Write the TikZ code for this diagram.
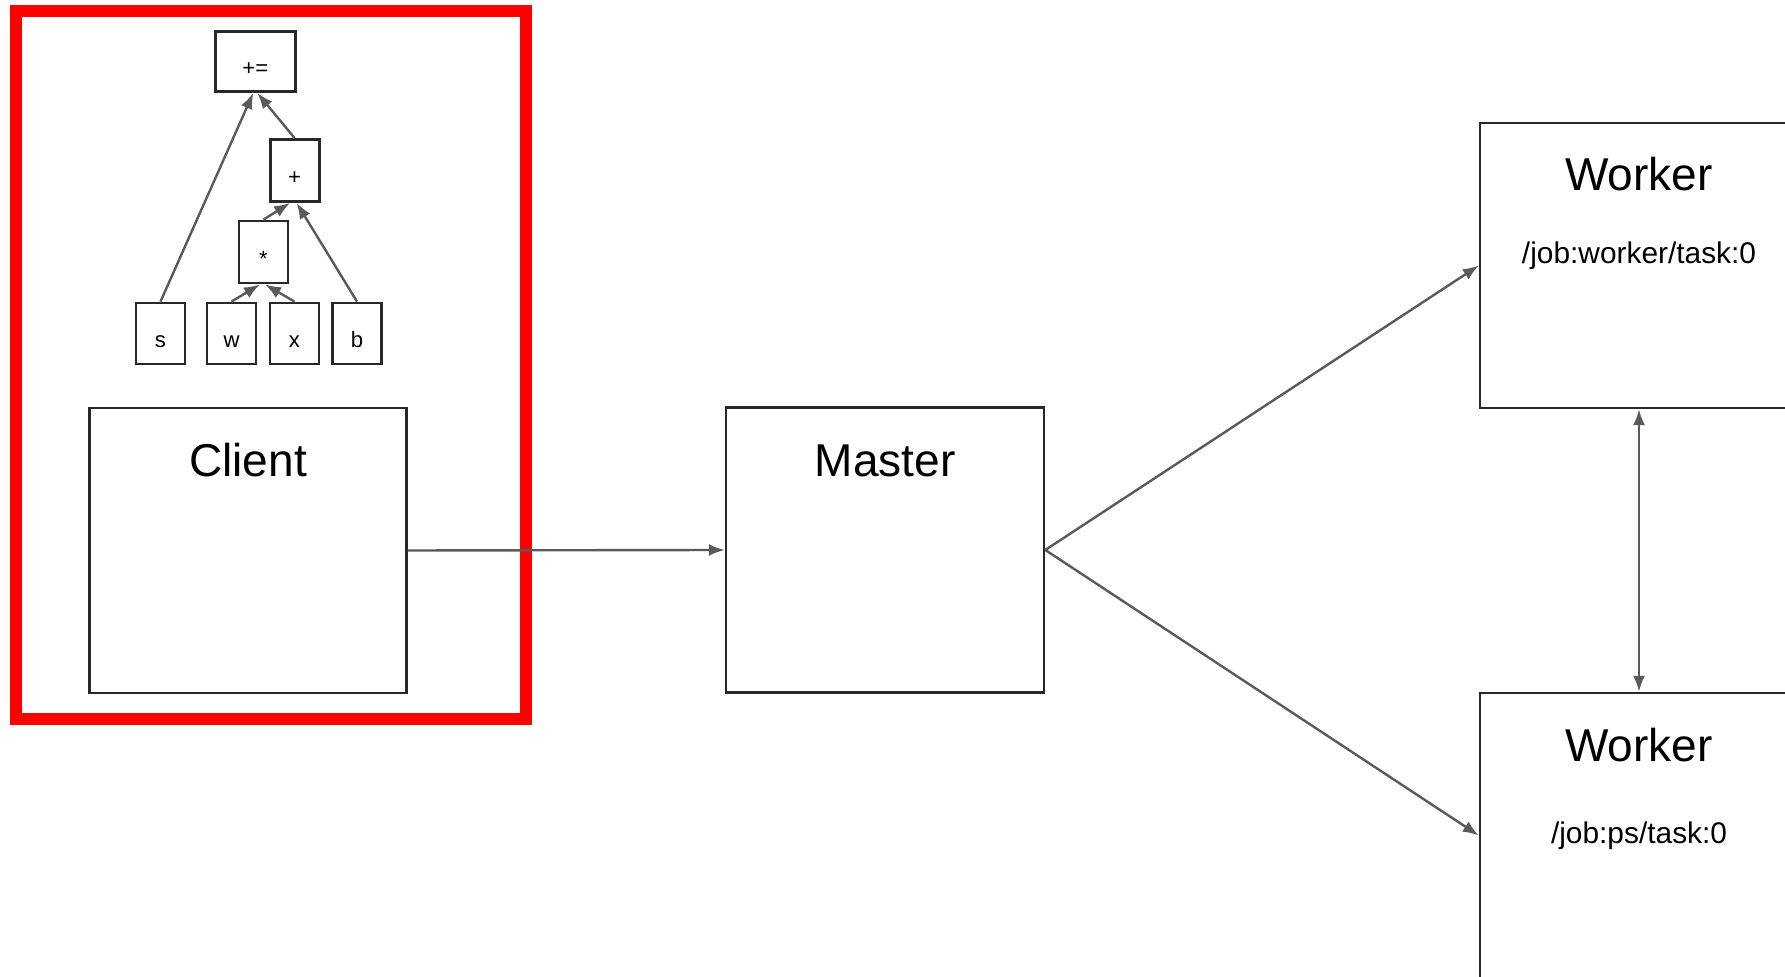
\documentclass[tikz,border=0pt]{standalone}
\usepackage{fontspec}
\setmainfont{Liberation Sans}
\usepackage{xcolor}
\usetikzlibrary{arrows.meta,positioning}
\definecolor{framered}{RGB}{255,0,0}
\definecolor{flowgray}{RGB}{90,90,90}
\definecolor{boxblack}{RGB}{40,40,40}

\begin{document}
\begin{tikzpicture}[
    opbox/.style={draw=boxblack, line width=0.028cm, minimum width=0.49cm, minimum height=0.61cm,
        inner sep=0pt, text height=0.29cm, text depth=0cm, font=\fontsize{6.3}{7}\selectfont},
    bigbox/.style={draw=boxblack, line width=0.024cm, minimum width=3.18cm, minimum height=2.85cm, inner sep=0pt},
    boxtitle/.style={anchor=base, inner sep=0pt, font=\fontsize{13.1}{15}\selectfont},
    jobname/.style={anchor=base, inner sep=0pt, font=\fontsize{8.5}{10}\selectfont},
    flow/.style={draw=flowgray, line width=0.024cm, -{Latex[length=0.16cm,width=0.12cm]}}
]
    \useasboundingbox (0,0) rectangle (17.85,-9.77);

    % graph built by the client
    \node[opbox, minimum width=0.80cm, minimum height=0.60cm] (pluseq) at (2.553,-0.615) {+=};
    \node[opbox, minimum height=0.62cm] (plus) at (2.946,-1.705) {+};
    \node[opbox, minimum height=0.62cm] (mul) at (2.635,-2.52) {*};
    \node[opbox] (s) at (1.605,-3.335) {s};
    \node[opbox] (w) at (2.315,-3.335) {w};
    \node[opbox] (x) at (2.945,-3.335) {x};
    \node[opbox] (b) at (3.57,-3.335) {b};

    \draw[flow] (s.north) -- ([xshift=-0.02cm]pluseq.south);
    \draw[flow] (plus.north) -- ([xshift=0.02cm]pluseq.south);
    \draw[flow] (mul.north) -- ([xshift=-0.045cm]plus.south);
    \draw[flow] (b.north) -- ([xshift=0.02cm]plus.south);
    \draw[flow] (w.north) -- ([xshift=-0.035cm]mul.south);
    \draw[flow] (x.north) -- ([xshift=0.015cm]mul.south);

    % processes
    \node[bigbox, minimum width=3.17cm] (client) at (2.481,-5.505) {};
    \node[boxtitle, yshift=-0.70cm] (clientlbl) at (client.north) {Client};

    \node[bigbox] (master) at (8.851,-5.50) {};
    \node[boxtitle, yshift=-0.70cm] (masterlbl) at (master.north) {Master};

    \node[bigbox] (worker) at (16.39,-2.655) {};
    \node[boxtitle, yshift=-0.69cm] (workerlbl) at (worker.north) {Worker};
    \node[jobname, yshift=-1.42cm] (workerjob) at (worker.north) {/job:worker/task:0};

    \node[bigbox] (ps) at (16.39,-8.355) {};
    \node[boxtitle, yshift=-0.70cm] (pslbl) at (ps.north) {Worker};
    \node[jobname, yshift=-1.52cm] (psjob) at (ps.north) {/job:ps/task:0};

    % red frame round the client side
    \draw[framered, line width=0.12cm] (0.157,-0.11) rectangle (5.256,-7.19);

    % connections
    \draw[flow] (client.east) -- (master.west);
    \draw[flow] (master.east) -- (worker.west);
    \draw[flow] (master.east) -- (ps.west);
    \draw[flow, {Latex[length=0.16cm,width=0.12cm]}-{Latex[length=0.16cm,width=0.12cm]}] (worker.south) -- (ps.north);
\end{tikzpicture}
\end{document}
